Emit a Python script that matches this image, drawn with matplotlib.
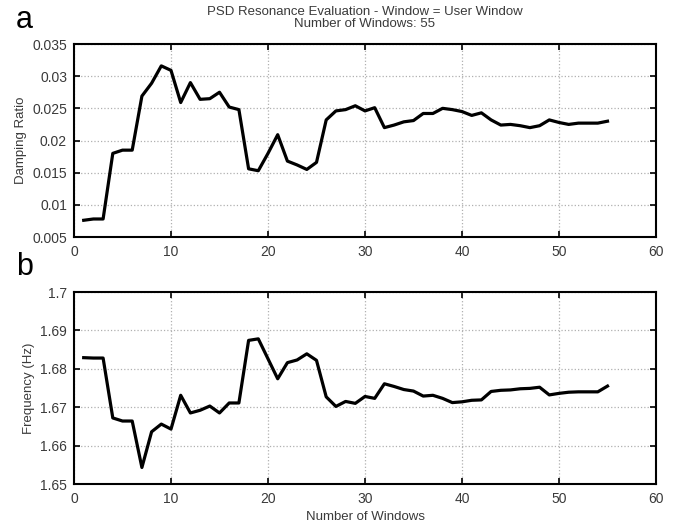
import matplotlib
matplotlib.use("Agg")
import matplotlib.pyplot as plt
import numpy as np

windows = np.arange(1, 56)

damping = [0.0076, 0.0078, 0.0078, 0.0180, 0.0185, 0.0185, 0.0269, 0.0289, 0.0316, 0.0309,
           0.0259, 0.0290, 0.0264, 0.0265, 0.0275, 0.0252, 0.0248, 0.0156, 0.0153, 0.0180,
           0.0209, 0.0168, 0.0162, 0.0155, 0.0166, 0.0232, 0.0246, 0.0248, 0.0254, 0.0246,
           0.0251, 0.0220, 0.0224, 0.0229, 0.0231, 0.0242, 0.0242, 0.0250, 0.0248, 0.0245,
           0.0239, 0.0243, 0.0232, 0.0224, 0.0225, 0.0223, 0.0220, 0.0223, 0.0232, 0.0228,
           0.0225, 0.0227, 0.0227, 0.0227, 0.0230]

frequency = [1.6829, 1.6828, 1.6828, 1.6672, 1.6664, 1.6664, 1.6543, 1.6636, 1.6656, 1.6643,
             1.6731, 1.6685, 1.6692, 1.6703, 1.6685, 1.6711, 1.6711, 1.6874, 1.6878, 1.6826,
             1.6774, 1.6816, 1.6823, 1.6839, 1.6822, 1.6727, 1.6702, 1.6715, 1.6710, 1.6728,
             1.6723, 1.6761, 1.6754, 1.6746, 1.6742, 1.6729, 1.6731, 1.6723, 1.6712, 1.6714,
             1.6718, 1.6719, 1.6741, 1.6744, 1.6745, 1.6748, 1.6749, 1.6752, 1.6732, 1.6736,
             1.6739, 1.6740, 1.6740, 1.6740, 1.6755]

damp_ticks = [0.005, 0.01, 0.015, 0.02, 0.025, 0.03, 0.035]
damp_labels = ["0.005", "0.01", "0.015", "0.02", "0.025", "0.03", "0.035"]
freq_ticks = [1.65, 1.66, 1.67, 1.68, 1.69, 1.7]
freq_labels = ["1.65", "1.66", "1.67", "1.68", "1.69", "1.7"]
x_ticks = [0, 10, 20, 30, 40, 50, 60]

plt.rcParams["font.family"] = ["Liberation Sans", "DejaVu Sans"]
txt_col = "#3a3a3a"

fig = plt.figure(figsize=(6.78, 5.22), dpi=100)
W, H = 678, 522
ax1 = fig.add_axes([74 / W, 1 - 237 / H, (656 - 74) / W, (237 - 44) / H])
ax2 = fig.add_axes([74 / W, 1 - 484 / H, (656 - 74) / W, (484 - 292) / H])


def style(ax, yt, yl, ylim):
    ax.set_xlim(0, 60)
    ax.set_ylim(*ylim)
    ax.set_xticks(x_ticks)
    ax.set_yticks(yt)
    ax.set_yticklabels(yl)
    ax.grid(True, linestyle=":", color="#b0b0b0", linewidth=0.9)
    ax.tick_params(direction="in", top=True, right=True, length=4, width=1.2,
                   labelsize=10, labelcolor=txt_col)
    ax.tick_params(axis="x", pad=6)
    ax.tick_params(axis="y", pad=5)
    for s in ax.spines.values():
        s.set_linewidth(1.5)


ax1.plot(windows, damping, color="black", linewidth=2.3)
style(ax1, damp_ticks, damp_labels, (0.005, 0.035))
ax1.set_ylabel("Damping Ratio", fontsize=9.5, color=txt_col, labelpad=4)
ax1.set_title("PSD Resonance Evaluation - Window = User Window\nNumber of Windows: 55",
              fontsize=9.5, color=txt_col, pad=12, linespacing=1.05)

ax2.plot(windows, frequency, color="black", linewidth=2.3)
style(ax2, freq_ticks, freq_labels, (1.65, 1.70))
ax2.set_ylabel("Frequency (Hz)", fontsize=9.5, color=txt_col, labelpad=4)
ax2.set_xlabel("Number of Windows", fontsize=9.5, color=txt_col, labelpad=3)

fig.text(16 / W, 1 - 20 / H, "a", fontsize=22, va="center", ha="left")
fig.text(16 / W, 1 - 267 / H, "b", fontsize=22, va="center", ha="left")

fig.savefig("out.png", dpi=100, facecolor="white")
